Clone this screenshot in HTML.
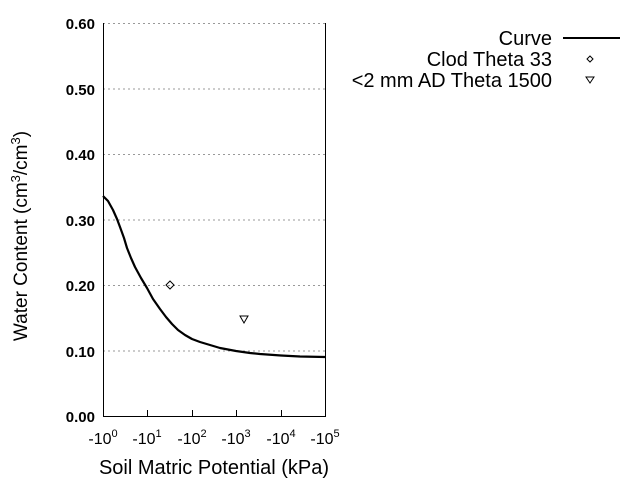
<!DOCTYPE html>
<html><head><style>body{margin:0;background:#fff}svg{display:block}</style></head>
<body>
<svg width="640" height="480" xmlns="http://www.w3.org/2000/svg" font-family="Liberation Sans, sans-serif">
<g stroke="#999" stroke-dasharray="2,3" stroke-width="1">
<line x1="103" x2="325" y1="23.5" y2="23.5"/>
<line x1="103" x2="325" y1="89" y2="89"/>
<line x1="103" x2="325" y1="154.5" y2="154.5"/>
<line x1="103" x2="325" y1="220" y2="220"/>
<line x1="103" x2="325" y1="285.5" y2="285.5"/>
<line x1="103" x2="325" y1="351" y2="351"/>
</g>
<g stroke="#000" stroke-width="1">
<line x1="103.5" y1="23" x2="103.5" y2="416"/>
<line x1="325.5" y1="23" x2="325.5" y2="416"/>
<line x1="103" y1="416.5" x2="326" y2="416.5"/>
<line x1="147.5" y1="410" x2="147.5" y2="416"/>
<line x1="192.5" y1="410" x2="192.5" y2="416"/>
<line x1="236.5" y1="410" x2="236.5" y2="416"/>
<line x1="281.5" y1="410" x2="281.5" y2="416"/>
</g>
<g font-size="15" font-weight="bold" text-anchor="end">
<text x="95" y="29">0.60</text><text x="95" y="95">0.50</text><text x="95" y="160">0.40</text>
<text x="95" y="226">0.30</text><text x="95" y="291">0.20</text><text x="95" y="357">0.10</text><text x="95" y="422">0.00</text>
</g>
<g font-size="16" text-anchor="middle">
<text x="103" y="444">-10<tspan font-size="11" dy="-7">0</tspan></text>
<text x="147" y="444">-10<tspan font-size="11" dy="-7">1</tspan></text>
<text x="192" y="444">-10<tspan font-size="11" dy="-7">2</tspan></text>
<text x="236" y="444">-10<tspan font-size="11" dy="-7">3</tspan></text>
<text x="281" y="444">-10<tspan font-size="11" dy="-7">4</tspan></text>
<text x="325" y="444">-10<tspan font-size="11" dy="-7">5</tspan></text>
</g>
<text x="214" y="474" font-size="20" text-anchor="middle">Soil Matric Potential (kPa)</text>
<text transform="translate(27,236) rotate(-90)" font-size="19" text-anchor="middle">Water Content (cm<tspan font-size="13" dy="-7">3</tspan><tspan dy="7">/cm</tspan><tspan font-size="13" dy="-7">3</tspan><tspan dy="7">)</tspan></text>
<polyline fill="none" stroke="#000" stroke-width="2.2" stroke-linejoin="round" points="103,196 108,201 113,210 117,219 120,227 124,238 127,248 131,258 135,267 141,278 147,288 153,299 160,309 166,317 172,324 178,330 185,335 192,339 200,342 210,345 220,348 236,351 250,353 260,354 281,355.5 300,356.5 325,357"/>
<path d="M170,281 L174,285 L170,289 L166,285 Z" fill="none" stroke="#000"/>
<path d="M240,316 L248,316 L244,323 Z" fill="none" stroke="#000"/>
<g font-size="20" text-anchor="end">
<text x="552" y="45">Curve</text>
<text x="552" y="66">Clod Theta 33</text>
<text x="552" y="87">&lt;2 mm AD Theta 1500</text>
</g>
<line x1="563" y1="38" x2="620" y2="38" stroke="#000" stroke-width="2"/>
<path d="M590,56 L593,59 L590,62 L587,59 Z" fill="none" stroke="#000"/>
<path d="M586,77 L594,77 L590,83 Z" fill="none" stroke="#000"/>
</svg>
</body></html>
